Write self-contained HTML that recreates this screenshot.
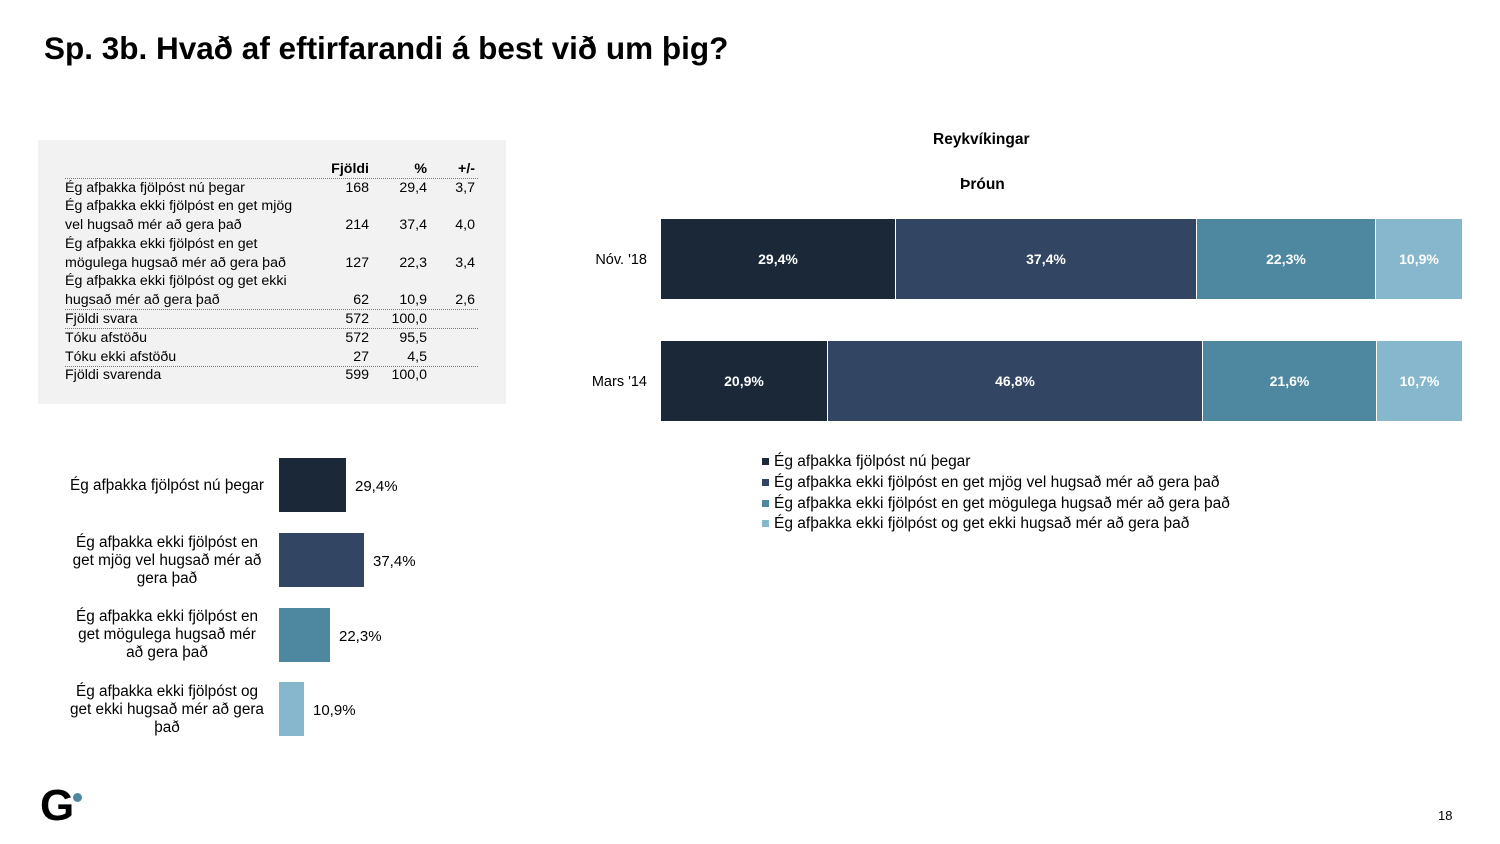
<!DOCTYPE html>
<html><head><meta charset="utf-8"><style>
body{margin:0;width:1500px;height:844px;background:#fff;position:relative;overflow:hidden;font-family:"Liberation Sans",Arial,sans-serif;color:#000}
.a{position:absolute;white-space:nowrap}
.t{font-size:14.2px;line-height:18.8px}
.r{text-align:right}
.dl{position:absolute;left:65px;width:413px;border-top:1px dotted #777;height:0}
.seg{position:absolute;color:#fff;font-weight:bold;font-size:14px;display:flex;align-items:center;justify-content:center;box-sizing:border-box;border-right:1.5px solid #fff}
.lb{position:absolute;font-size:15.3px;line-height:18px;text-align:center;width:230px;left:52px}
.bar{position:absolute;left:279px}
.v{position:absolute;font-size:15px}
.lg{position:absolute;left:762px;font-size:15.5px}
.lg i{display:inline-block;width:7px;height:7px;margin-right:5px;vertical-align:1px}
</style></head><body>
<div class="a" style="left:44px;top:30px;font-size:31.5px;font-weight:bold">Sp. 3b. Hvað af eftirfarandi á best við um þig?</div>

<div class="a" style="left:38px;top:140px;width:468px;height:264px;background:#f2f2f2"></div>
<div class="a t r" style="left:310px;top:160px;width:59px;font-weight:bold">Fjöldi</div>
<div class="a t r" style="left:380px;top:160px;width:47px;font-weight:bold">%</div>
<div class="a t r" style="left:440px;top:160px;width:35px;font-weight:bold">+/-</div>
<div class="dl" style="top:178px"></div>
<div class="a t" style="left:65px;top:178.5px">Ég afþakka fjölpóst nú þegar<br>Ég afþakka ekki fjölpóst en get mjög<br>vel hugsað mér að gera það<br>Ég afþakka ekki fjölpóst en get<br>mögulega hugsað mér að gera það<br>Ég afþakka ekki fjölpóst og get ekki<br>hugsað mér að gera það<br>Fjöldi svara<br>Tóku afstöðu<br>Tóku ekki afstöðu<br>Fjöldi svarenda</div>
<div class="a t r" style="left:320px;top:178.5px;width:49px">168<br><br>214<br><br>127<br><br>62<br>572<br>572<br>27<br>599</div>
<div class="a t r" style="left:370px;top:178.5px;width:57px">29,4<br><br>37,4<br><br>22,3<br><br>10,9<br>100,0<br>95,5<br>4,5<br>100,0</div>
<div class="a t r" style="left:440px;top:178.5px;width:35px">3,7<br><br>4,0<br><br>3,4<br><br>2,6</div>
<div class="dl" style="top:309px"></div>
<div class="dl" style="top:328px"></div>
<div class="dl" style="top:366px"></div>

<div class="a" style="left:933px;top:131px;font-size:15.5px;font-weight:bold">Reykvíkingar</div>
<div class="a" style="left:960px;top:176px;font-size:15.5px;font-weight:bold">Þróun</div>
<div class="a" style="left:560px;top:252px;width:87px;text-align:right;font-size:14.5px">Nóv. '18</div>
<div class="a" style="left:560px;top:374px;width:87px;text-align:right;font-size:14.5px">Mars '14</div>

<div class="seg" style="left:661px;top:219px;width:235px;height:80px;background:#1a2838">29,4%</div>
<div class="seg" style="left:896px;top:219px;width:301px;height:80px;background:#324664">37,4%</div>
<div class="seg" style="left:1197px;top:219px;width:179px;height:80px;background:#4e87a0">22,3%</div>
<div class="seg" style="left:1376px;top:219px;width:86px;height:80px;background:#86b7cc;border:0">10,9%</div>
<div class="seg" style="left:661px;top:341px;width:167px;height:80px;background:#1a2838">20,9%</div>
<div class="seg" style="left:828px;top:341px;width:375px;height:80px;background:#324664">46,8%</div>
<div class="seg" style="left:1203px;top:341px;width:174px;height:80px;background:#4e87a0">21,6%</div>
<div class="seg" style="left:1377px;top:341px;width:85px;height:80px;background:#86b7cc;border:0">10,7%</div>

<div class="lg" style="top:453px"><i style="background:#1a2838"></i>Ég afþakka fjölpóst nú þegar</div>
<div class="lg" style="top:474px"><i style="background:#324664"></i>Ég afþakka ekki fjölpóst en get mjög vel hugsað mér að gera það</div>
<div class="lg" style="top:495px"><i style="background:#4e87a0"></i>Ég afþakka ekki fjölpóst en get mögulega hugsað mér að gera það</div>
<div class="lg" style="top:515px"><i style="background:#86b7cc"></i>Ég afþakka ekki fjölpóst og get ekki hugsað mér að gera það</div>

<div class="lb" style="top:477px">Ég afþakka fjölpóst nú þegar</div>
<div class="lb" style="top:534px">Ég afþakka ekki fjölpóst en<br>get mjög vel hugsað mér að<br>gera það</div>
<div class="lb" style="top:608px">Ég afþakka ekki fjölpóst en<br>get mögulega hugsað mér<br>að gera það</div>
<div class="lb" style="top:683px">Ég afþakka ekki fjölpóst og<br>get ekki hugsað mér að gera<br>það</div>
<div class="bar" style="top:458px;width:67px;height:54px;background:#1a2838"></div>
<div class="bar" style="top:533px;width:85px;height:54px;background:#324664"></div>
<div class="bar" style="top:608px;width:51px;height:54px;background:#4e87a0"></div>
<div class="bar" style="top:682px;width:25px;height:54px;background:#86b7cc"></div>
<div class="v" style="left:355px;top:478px">29,4%</div>
<div class="v" style="left:373px;top:553px">37,4%</div>
<div class="v" style="left:339px;top:628px">22,3%</div>
<div class="v" style="left:313px;top:702px">10,9%</div>

<div class="a" style="left:40px;top:784px;font-size:44px;font-weight:bold;line-height:44px">G</div>
<div class="a" style="left:73px;top:793px;width:9px;height:9px;border-radius:50%;background:#4e87a0"></div>
<div class="a" style="left:1438px;top:808px;font-size:13px">18</div>
</body></html>
